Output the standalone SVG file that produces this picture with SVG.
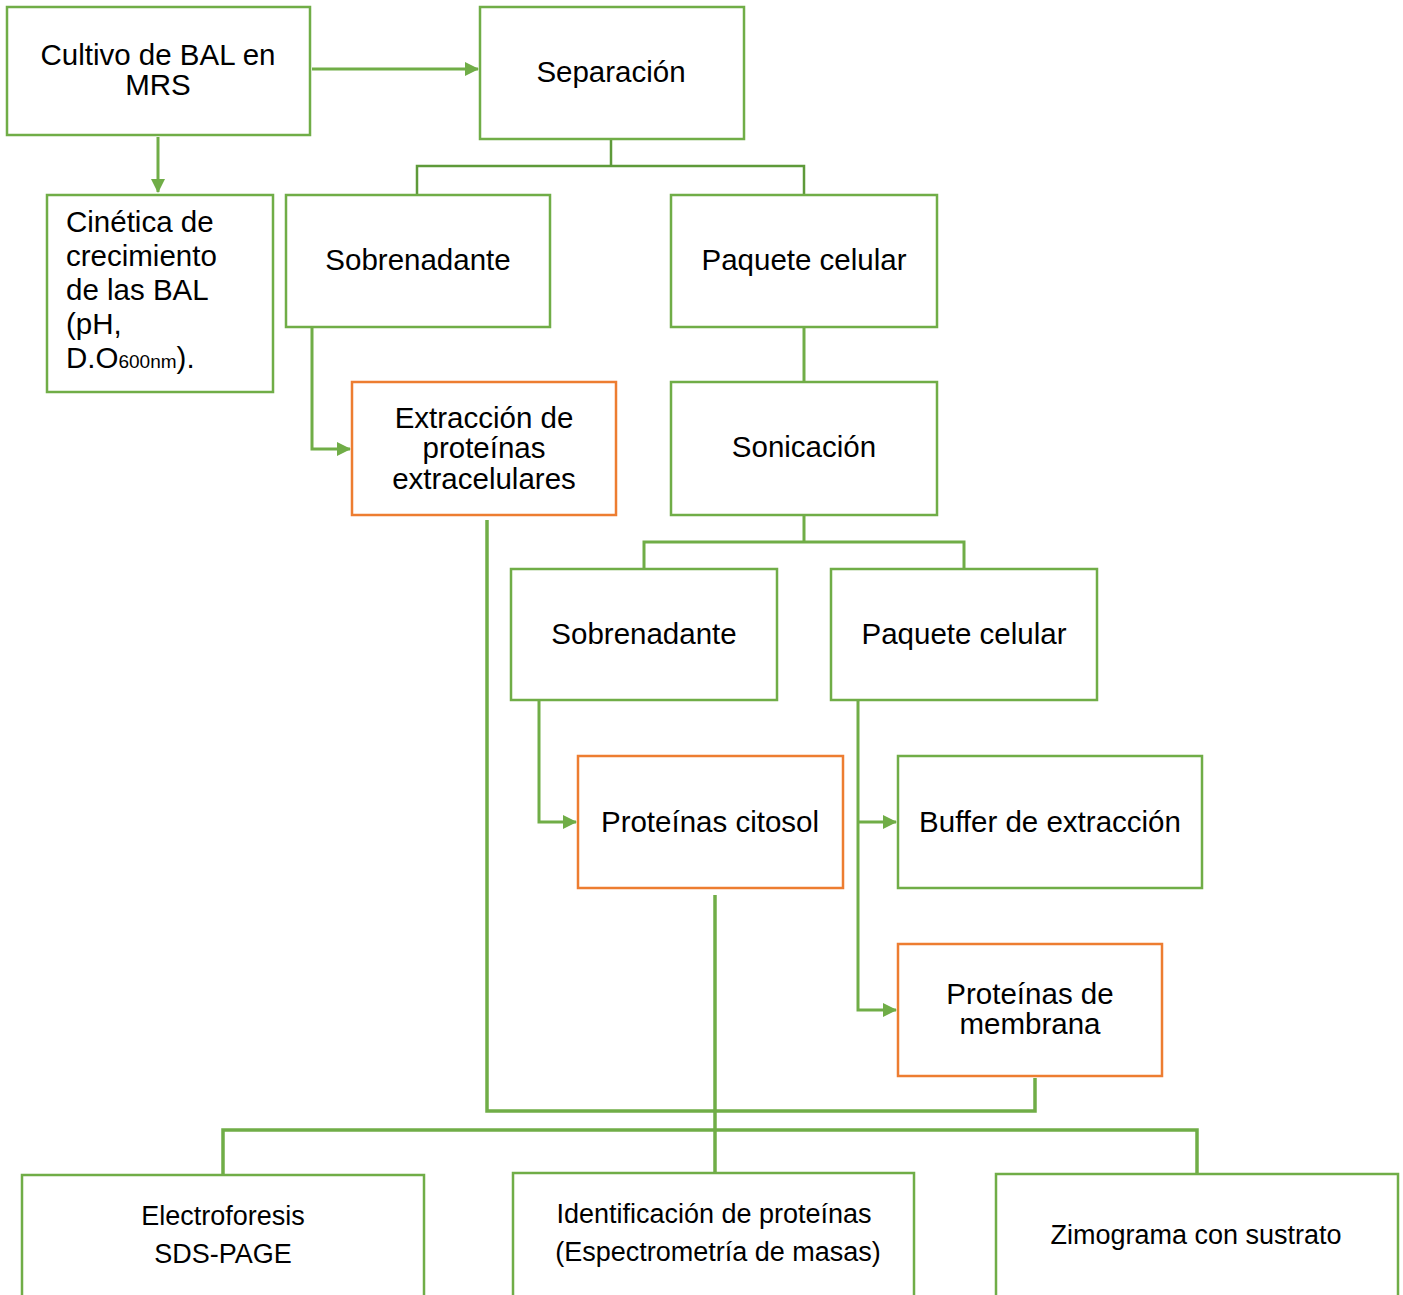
<svg xmlns="http://www.w3.org/2000/svg" width="1403" height="1295" viewBox="0 0 1403 1295">
<style>
.g{fill:#fff;stroke:#70AD47;stroke-width:2.5}
.o{fill:#fff;stroke:#ED7D31;stroke-width:2.5}
.t{font-family:"Liberation Sans",Arial,sans-serif;font-size:29.5px;fill:#000;text-anchor:middle}
.tl{font-family:"Liberation Sans",Arial,sans-serif;font-size:29.5px;fill:#000}
.tb{font-family:"Liberation Sans",Arial,sans-serif;font-size:27px;fill:#000;text-anchor:middle}
.c{fill:none;stroke:#70AD47;stroke-width:3}
.cd{fill:none;stroke:#5E9A3A;stroke-width:2.5}
.cb{fill:none;stroke:#70AD47;stroke-width:3.5}
</style>
<defs>
<marker id="ah" viewBox="0 0 14 14" refX="13" refY="7" markerWidth="14" markerHeight="14" markerUnits="userSpaceOnUse" orient="auto">
<path d="M0,0 L14,7 L0,14 z" fill="#70AD47"/>
</marker>
</defs>
<rect width="1403" height="1295" fill="#fff"/>
<g id="connectors">
<path class="c" d="M312,69 H478" marker-end="url(#ah)"/>
<path class="c" d="M158,137 V192" marker-end="url(#ah)"/>
<path class="cd" d="M611,139 V166 M417,195 V166 H804 V195"/>
<path class="c" d="M804,327 V382"/>
<path class="c" d="M312,327 V449 H350" marker-end="url(#ah)"/>
<path class="c" d="M804,515 V542 M644,569 V542 H964 V569"/>
<path class="c" d="M539,700 V822 H576" marker-end="url(#ah)"/>
<path class="c" d="M858,700 V1010 H896" marker-end="url(#ah)"/>
<path class="c" d="M858,822 H896" marker-end="url(#ah)"/>
<path class="cb" d="M487,520 V1111 H1035 V1078"/>
<path class="cb" d="M715,895 V1173"/>
<path class="cb" d="M223,1176 V1130 H1197 V1176"/>
</g>
<g id="n1"><rect class="g" x="7" y="7" width="303" height="128"/><text class="t" x="158" y="65">Cultivo de BAL en</text><text class="t" x="158" y="95">MRS</text></g>
<g id="n2"><rect class="g" x="480" y="7" width="264" height="132"/><text class="t" x="611" y="82">Separación</text></g>
<g id="n3"><rect class="g" x="47" y="195" width="226" height="197"/>
<text class="tl" x="66" y="232">Cinética de</text>
<text class="tl" x="66" y="266">crecimiento</text>
<text class="tl" x="66" y="300">de las BAL</text>
<text class="tl" x="66" y="334">(pH,</text>
<text class="tl" x="66" y="368">D.O<tspan font-size="19">600nm</tspan>).</text></g>
<g id="n4"><rect class="g" x="286" y="195" width="264" height="132"/><text class="t" x="418" y="270">Sobrenadante</text></g>
<g id="n5"><rect class="g" x="671" y="195" width="266" height="132"/><text class="t" x="804" y="270">Paquete celular</text></g>
<g id="n6"><rect class="o" x="352" y="382" width="264" height="133"/><text class="t" x="484" y="428">Extracción de</text><text class="t" x="484" y="458">proteínas</text><text class="t" x="484" y="489">extracelulares</text></g>
<g id="n7"><rect class="g" x="671" y="382" width="266" height="133"/><text class="t" x="804" y="457">Sonicación</text></g>
<g id="n8"><rect class="g" x="511" y="569" width="266" height="131"/><text class="t" x="644" y="644">Sobrenadante</text></g>
<g id="n9"><rect class="g" x="831" y="569" width="266" height="131"/><text class="t" x="964" y="644">Paquete celular</text></g>
<g id="n10"><rect class="o" x="578" y="756" width="265" height="132"/><text class="t" x="710" y="832">Proteínas citosol</text></g>
<g id="n11"><rect class="g" x="898" y="756" width="304" height="132"/><text class="t" x="1050" y="832">Buffer de extracción</text></g>
<g id="n12"><rect class="o" x="898" y="944" width="264" height="132"/><text class="t" x="1030" y="1004">Proteínas de</text><text class="t" x="1030" y="1034">membrana</text></g>
<g id="n13"><rect class="g" x="22" y="1175" width="402" height="140"/><text class="tb" x="223" y="1225">Electroforesis</text><text class="tb" x="223" y="1263">SDS-PAGE</text></g>
<g id="n14"><rect class="g" x="513" y="1173" width="401" height="140"/><text class="tb" x="714" y="1223">Identificación de proteínas</text><text class="tb" x="718" y="1261">(Espectrometría de masas)</text></g>
<g id="n15"><rect class="g" x="996" y="1174" width="402" height="140"/><text class="tb" x="1196" y="1244">Zimograma con sustrato</text></g>
</svg>
